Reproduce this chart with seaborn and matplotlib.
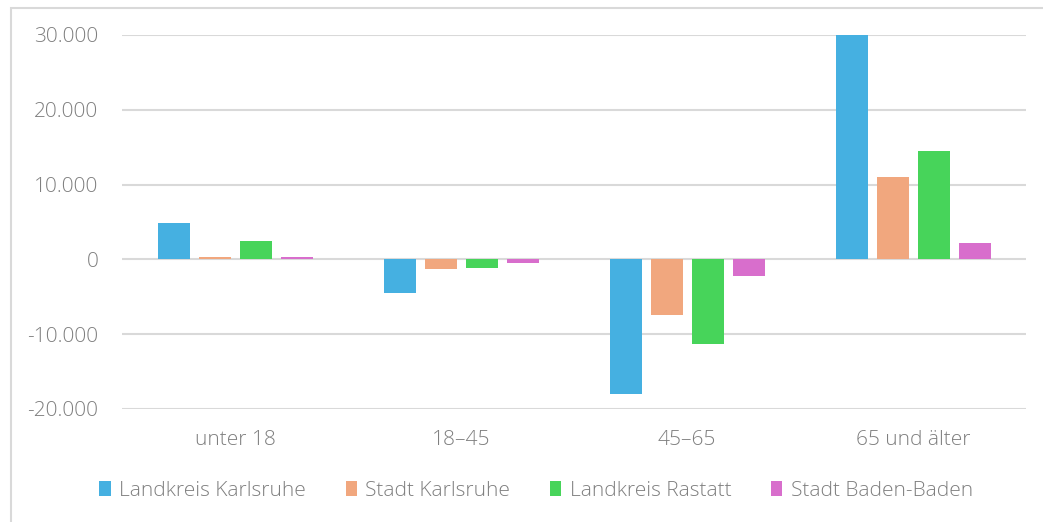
import pandas as pd
import matplotlib.pyplot as plt
import matplotlib.ticker as mticker
from matplotlib.patches import Rectangle
import seaborn as sns

# Altersgruppen und Veränderung je Kreis
gruppen = ["unter 18", "18–45", "45–65", "65 und älter"]
kreise = ["Landkreis Karlsruhe", "Stadt Karlsruhe", "Landkreis Rastatt", "Stadt Baden-Baden"]
lk_karlsruhe = [4900, -4500, -18000, 30000]
st_karlsruhe = [350, -1250, -7450, 11000]
lk_rastatt = [2400, -1100, -11300, 14500]
st_baden_baden = [350, -450, -2200, 2150]
farben = ["#45B0E1", "#F1A77E", "#47D45A", "#D86ECC"]

df = pd.DataFrame({
    "Gruppe": gruppen * 4,
    "Kreis": [k for k in kreise for _ in gruppen],
    "Wert": lk_karlsruhe + st_karlsruhe + lk_rastatt + st_baden_baden,
})

sns.set_style("white")
plt.rcParams["font.family"] = ["Open Sans", "DejaVu Sans"]
plt.rcParams["font.weight"] = "light"
grau = "#7f7f7f"

fig = plt.figure(figsize=(10.43, 5.22), dpi=100)
ax = fig.add_axes([0.117, 0.2165, 0.867, 0.7165])

sns.barplot(data=df, x="Gruppe", y="Wert", hue="Kreis", palette=farben,
            saturation=1, linewidth=0, width=0.726, gap=0.22, ax=ax, legend=True)

ax.set_ylim(-20000, 30000)
ax.set_yticks(range(-20000, 30001, 10000))
ax.yaxis.set_major_formatter(mticker.FuncFormatter(
    lambda v, p: f"{int(v):,}".replace(",", ".")))
ax.grid(axis="y", color="#d9d9d9", linewidth=1.5)
ax.set_axisbelow(True)
for s in ax.spines.values():
    s.set_visible(False)
ax.set_xlabel("")
ax.set_ylabel("")
ax.tick_params(axis="y", length=0, pad=17, labelsize=15, labelcolor=grau)
ax.tick_params(axis="x", length=0, pad=15, labelsize=15, labelcolor=grau)

handles, labels = ax.get_legend_handles_labels()
ax.get_legend().remove()
fig.legend(handles, labels, loc="center", bbox_to_anchor=(0.514, 1 - 491 / 522),
           ncol=4, frameon=False, fontsize=15, labelcolor=grau,
           handlelength=0.55, handleheight=0.7, handletextpad=0.4, columnspacing=1.9)

# Rahmen um die Grafik
fig.patches.append(Rectangle((11 / 1043, -0.1), 1.2, 1.1 - 8 / 522,
                             transform=fig.transFigure, fill=False,
                             edgecolor="#d9d9d9", linewidth=1.5))

fig.savefig("out.png", dpi=100)
